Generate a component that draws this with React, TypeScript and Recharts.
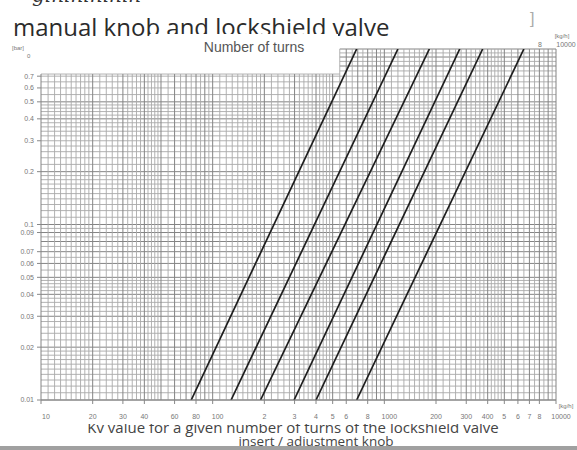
import React from "react";
import { ComposedChart, Line, XAxis, YAxis, ReferenceLine } from "recharts";

// flow [kg/h] where each turn line meets 0.01 bar and 1 bar
const turnNames = ["t1", "t2", "t3", "t4", "t5", "t8"];
const dpLow = 0.01;
const dpHigh = 1;
const flowAtLow = [75, 128, 190, 298, 400, 690];
const flowAtHigh = [690, 1200, 1830, 2750, 3740, 6500];

const xTickValues = [10, 20, 30, 40, 60, 80, 100, 200, 300, 400, 500, 600, 800, 1000, 2000, 3000, 4000, 5000, 6000, 7000, 8000, 10000];
const xTickLabels = ["10", "20", "30", "40", "60", "80", "100", "2", "3", "4", "5", "6", "8", "1000", "200", "300", "400", "5", "6", "7", "8", "10000"];
const yTickValues = [0.01, 0.02, 0.03, 0.04, 0.05, 0.06, 0.07, 0.09, 0.1, 0.2, 0.3, 0.4, 0.5, 0.6, 0.7];
const yTickLabels = ["0.01", "0.02", "0.03", "0.04", "0.05", "0.06", "0.07", "0.09", "0.1", "0.2", "0.3", "0.4", "0.5", "0.6", "0.7"];

// graph paper subdivisions inside one decade
const gridMantissas = [1, 1.1, 1.2, 1.3, 1.4, 1.5, 1.6, 1.7, 1.8, 1.9, 2, 2.2, 2.4, 2.6, 2.8, 3, 3.2, 3.4, 3.6, 3.8, 4, 4.2, 4.4, 4.6, 4.8, 5, 5.5, 6, 6.5, 7, 7.5, 8, 8.5, 9, 9.5];
const xDecades = [10, 100, 1000];
const yDecades = [0.01, 0.1];

// the left part of the paper stops lower than the right part
const xStep = 550;
const yStep = 0.72;

const round = (v: number) => Number(v.toPrecision(6));
const xGrid = [...xDecades.flatMap((d) => gridMantissas.map((m) => round(d * m))), 10000];
const yGrid = [...yDecades.flatMap((d) => gridMantissas.map((m) => round(d * m))), 1];
const isMajor = (v: number) => Math.abs(v / Math.pow(10, Math.floor(Math.log10(v) + 1e-9)) % 1) < 1e-6;

const font = "'Liberation Sans', Arial, sans-serif";
const minorStroke = "#a9a9a9";
const majorStroke = "#848484";

const XTick = (props: any) => {
  const { x, y, payload } = props;
  const i = xTickValues.indexOf(payload.value);
  const decade = Number.isInteger(Math.log10(payload.value));
  return (
    <text x={x + (decade ? 5 : 0)} y={y} dy="0.71em" textAnchor="middle" fontSize={7} fill="#777" fontFamily={font}>
      {xTickLabels[i]}
    </text>
  );
};

export default function App() {
  return (
    <div style={{ position: "absolute", left: 0, top: 0, width: 577, height: 450, background: "#fff", overflow: "hidden" }}>
      <div style={{ position: "absolute", left: 0, top: 0 }}>
        <ComposedChart width={577} height={450} margin={{ top: 49, right: 21, bottom: 30, left: 6 }}>
          <XAxis
            type="number"
            dataKey="q"
            scale="log"
            domain={[10, 10000]}
            ticks={xTickValues}
            interval={0}
            allowDataOverflow
            height={20}
            tick={<XTick />}
            tickSize={4}
            tickMargin={10}
            axisLine={{ stroke: "#888" }}
            tickLine={{ stroke: "#888" }}
          />
          <YAxis
            type="number"
            scale="log"
            domain={[0.01, 1]}
            ticks={yTickValues}
            interval={0}
            tickFormatter={(v: number) => yTickLabels[yTickValues.indexOf(v)]}
            allowDataOverflow
            width={35}
            tickSize={4}
            tickMargin={3}
            axisLine={false}
            tickLine={{ stroke: "#888" }}
            tick={{ fontSize: 7, fill: "#777", fontFamily: font }}
          />
          {yGrid.map((v) => (
            <ReferenceLine
              key={"h" + v}
              ifOverflow="visible"
              segment={[{ x: v > yStep ? xStep : 10, y: v }, { x: 10000, y: v }]}
              stroke={isMajor(v) ? majorStroke : minorStroke}
              strokeWidth={isMajor(v) ? 1 : 0.9}
            />
          ))}
          <ReferenceLine ifOverflow="visible" segment={[{ x: 10, y: yStep }, { x: xStep, y: yStep }]} stroke={minorStroke} strokeWidth={0.9} />
          {xGrid.map((v) => (
            <ReferenceLine
              key={"v" + v}
              ifOverflow="visible"
              segment={[{ x: v, y: 0.01 }, { x: v, y: v >= xStep ? 1 : yStep }]}
              stroke={isMajor(v) ? majorStroke : minorStroke}
              strokeWidth={isMajor(v) ? 1 : 0.9}
            />
          ))}
          {turnNames.map((name, i) => (
            <Line
              key={name}
              name={name}
              data={[
                { q: flowAtLow[i], dp: dpLow },
                { q: flowAtHigh[i], dp: dpHigh },
              ]}
              dataKey="dp"
              type="linear"
              stroke="#1e1e1e"
              strokeWidth={1.7}
              dot={false}
              isAnimationActive={false}
            />
          ))}
        </ComposedChart>
      </div>
      <svg width={577} height={450} style={{ position: "absolute", left: 0, top: 0, pointerEvents: "none" }}>
        <defs>
          <clipPath id="capclip">
            <rect x={0} y={424} width={577} height={30} />
          </clipPath>
        </defs>
        <text x={32} y={2} fontSize={20} fontStyle="italic" fill="#333" fontFamily="'DejaVu Serif', serif">gininininin</text>
        <text x={13} y={36} fontSize={24} fill="#2b2b2b" fontFamily="'Open Sans', sans-serif">manual knob and lockshield valve</text>
        <rect x={150} y={34} width={188} height={8} fill="#fff" />
        <text x={530} y={24} fontSize={16} fill="#aaa" fontFamily={font}>]</text>
        <text x={254} y={52} fontSize={14} textAnchor="middle" fill="#555" fontFamily={font}>Number of turns</text>
        <text x={12} y={50} fontSize={6} fill="#777" fontFamily={font}>[bar]</text>
        <text x={27} y={58} fontSize={6} fill="#777" fontFamily={font}>0</text>
        <text x={562} y={38} fontSize={6} textAnchor="middle" fill="#777" fontFamily={font}>[kg/h]</text>
        <text x={566} y={47} fontSize={7} textAnchor="middle" fill="#777" fontFamily={font}>10000</text>
        <text x={540} y={47} fontSize={7} textAnchor="middle" fill="#777" fontFamily={font}>8</text>
        <text x={566} y={408} fontSize={6} textAnchor="middle" fill="#777" fontFamily={font}>[kg/h]</text>
        <g clipPath="url(#capclip)">
          <text x={293} y={432.5} fontSize={15} textAnchor="middle" fill="#444" fontFamily="'Open Sans', sans-serif">
            Kv value for a given number of turns of the lockshield valve
          </text>
          <text x={316} y={445.5} fontSize={13.5} textAnchor="middle" fill="#444" fontFamily="'Open Sans', sans-serif">
            insert / adjustment knob
          </text>
        </g>
        <rect x={0} y={446} width={577} height={4} fill="#a0a0a0" />
      </svg>
    </div>
  );
}
